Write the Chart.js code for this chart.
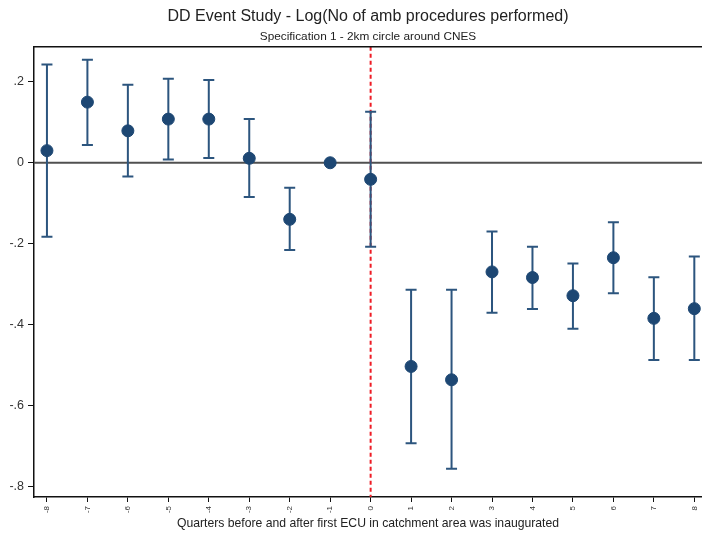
<!DOCTYPE html>
<html>
<head>
<meta charset="utf-8">
<script src="https://cdn.jsdelivr.net/npm/chart.js@4.4.1/dist/chart.umd.min.js"></script>
<style>
  html, body { margin: 0; padding: 0; background: #fff; }
  #wrap { width: 702px; height: 533px; }
</style>
</head>
<body>
<div id="wrap"><canvas id="myChart" width="702" height="533"></canvas></div>
<script>
// event time (quarters relative to first ECU)
const quarters = [-8, -7, -6, -5, -4, -3, -2, -1, 0, 1, 2, 3, 4, 5, 6, 7, 8];
const estimates = [0.030, 0.150, 0.079, 0.108, 0.108, 0.011, -0.140, 0, -0.041, -0.504, -0.537, -0.270, -0.284, -0.329, -0.235, -0.385, -0.361];
const upperCI = [0.243, 0.255, 0.193, 0.208, 0.205, 0.108, -0.062, null, 0.126, -0.314, -0.314, -0.170, -0.208, -0.249, -0.147, -0.283, -0.232];
const lowerCI = [-0.183, 0.044, -0.034, 0.008, 0.012, -0.085, -0.216, null, -0.208, -0.694, -0.757, -0.371, -0.362, -0.411, -0.323, -0.488, -0.488];
const yTicks = [-0.8, -0.6, -0.4, -0.2, 0, 0.2];
const yTickLabels = ["-.8", "-.6", "-.4", "-.2", "0", ".2"];
const xTicks = quarters;

const yMin = -0.827, yMax = 0.287;
const xMin = -8.32, xMax = 8.19;

const font = "'Liberation Sans', Arial, sans-serif";
const barColor = "#2c557e";
const dotColor = "#1d4773";

const errorBars = {
  id: "errorBars",
  beforeDatasetDraw(chart, args) {
    if (args.index !== 0) return;
    const xs = chart.scales.x;
    const ys = chart.scales.y;
    const ctx = chart.ctx;
    ctx.save();
    ctx.strokeStyle = barColor;
    ctx.lineWidth = 2;
    quarters.forEach((q, i) => {
      if (upperCI[i] == null) return;
      const px = xs.getPixelForValue(q);
      const top = ys.getPixelForValue(upperCI[i]);
      const bot = ys.getPixelForValue(lowerCI[i]);
      ctx.beginPath();
      ctx.moveTo(px, top);
      ctx.lineTo(px, bot);
      ctx.moveTo(px - 5.5, top);
      ctx.lineTo(px + 5.5, top);
      ctx.moveTo(px - 5.5, bot);
      ctx.lineTo(px + 5.5, bot);
      ctx.stroke();
    });
    ctx.restore();
  },
};

const topBorder = {
  id: "topBorder",
  afterDraw(chart) {
    const a = chart.chartArea;
    const ctx = chart.ctx;
    ctx.save();
    ctx.strokeStyle = "#111";
    ctx.lineWidth = 1.5;
    ctx.beginPath();
    ctx.moveTo(a.left, a.top);
    ctx.lineTo(a.right, a.top);
    ctx.stroke();
    ctx.restore();
  },
};

const data = {
  datasets: [
    {
      label: "estimate",
      data: quarters.map((q, i) => ({ x: q, y: estimates[i] })),
      backgroundColor: dotColor,
      borderColor: dotColor,
      pointRadius: 6,
      pointHoverRadius: 6,
      order: 0,
    },
    {
      label: "ref",
      data: [{ x: 0, y: yMax }, { x: 0, y: yMin }],
      showLine: true,
      borderColor: "#ee1c25",
      borderWidth: 2,
      borderDash: [4, 3],
      pointRadius: 0,
      order: 1,
    },
    {
      label: "zero",
      data: [{ x: xMin, y: 0 }, { x: xMax, y: 0 }],
      showLine: true,
      borderColor: "#505050",
      borderWidth: 2,
      pointRadius: 0,
      order: 2,
    },
  ],
};

const config = {
  type: "scatter",
  data: data,
  options: {
    responsive: false,
    animation: false,
    layout: { padding: 0, autoPadding: false },
    plugins: {
      legend: { display: false },
      tooltip: { enabled: false },
      title: {
        display: true,
        fullSize: false,
        text: "DD Event Study - Log(No of amb procedures performed)",
        color: "#222",
        font: { family: font, size: 16, weight: "normal" },
        padding: { top: 7.4, bottom: 3 },
      },
      subtitle: {
        display: true,
        fullSize: false,
        text: "Specification 1 - 2km circle around CNES",
        color: "#222",
        font: { family: font, size: 11.8, weight: "normal" },
        padding: { top: 0, bottom: 3 },
      },
    },
    scales: {
      x: {
        type: "linear",
        min: xMin,
        max: xMax,
        afterBuildTicks: (scale) => {
          scale.ticks = xTicks.map((v) => ({ value: v }));
        },
        afterFit: (scale) => {
          scale.height = 36;
          scale.paddingLeft = 0;
          scale.paddingRight = 0;
        },
        border: { display: true, color: "#111", width: 1.5 },
        grid: { drawOnChartArea: false, drawTicks: true, tickLength: 5, color: "#111" },
        ticks: {
          autoSkip: false,
          minRotation: 90,
          maxRotation: 90,
          padding: 4,
          color: "#333",
          font: { family: font, size: 8 },
          callback: (v) => String(v),
        },
        title: {
          display: true,
          text: "Quarters before and after first ECU in catchment area was inaugurated",
          color: "#222",
          font: { family: font, size: 12.2 },
          padding: { top: 0, bottom: 2 },
        },
      },
      y: {
        type: "linear",
        min: yMin,
        max: yMax,
        afterBuildTicks: (scale) => {
          scale.ticks = yTicks.map((v) => ({ value: v }));
        },
        afterFit: (scale) => {
          scale.width = 34;
          scale.paddingTop = 0;
          scale.paddingBottom = 0;
        },
        border: { display: true, color: "#111", width: 1.5 },
        grid: { drawOnChartArea: false, drawTicks: true, tickLength: 6, color: "#111" },
        ticks: {
          padding: 4,
          color: "#333",
          font: { family: font, size: 12.5 },
          callback: (v) => {
            const i = yTicks.findIndex((t) => Math.abs(t - v) < 1e-9);
            return i >= 0 ? yTickLabels[i] : "";
          },
        },
      },
    },
  },
  plugins: [errorBars, topBorder],
};

new Chart(document.getElementById("myChart"), config);
</script>
</body>
</html>
